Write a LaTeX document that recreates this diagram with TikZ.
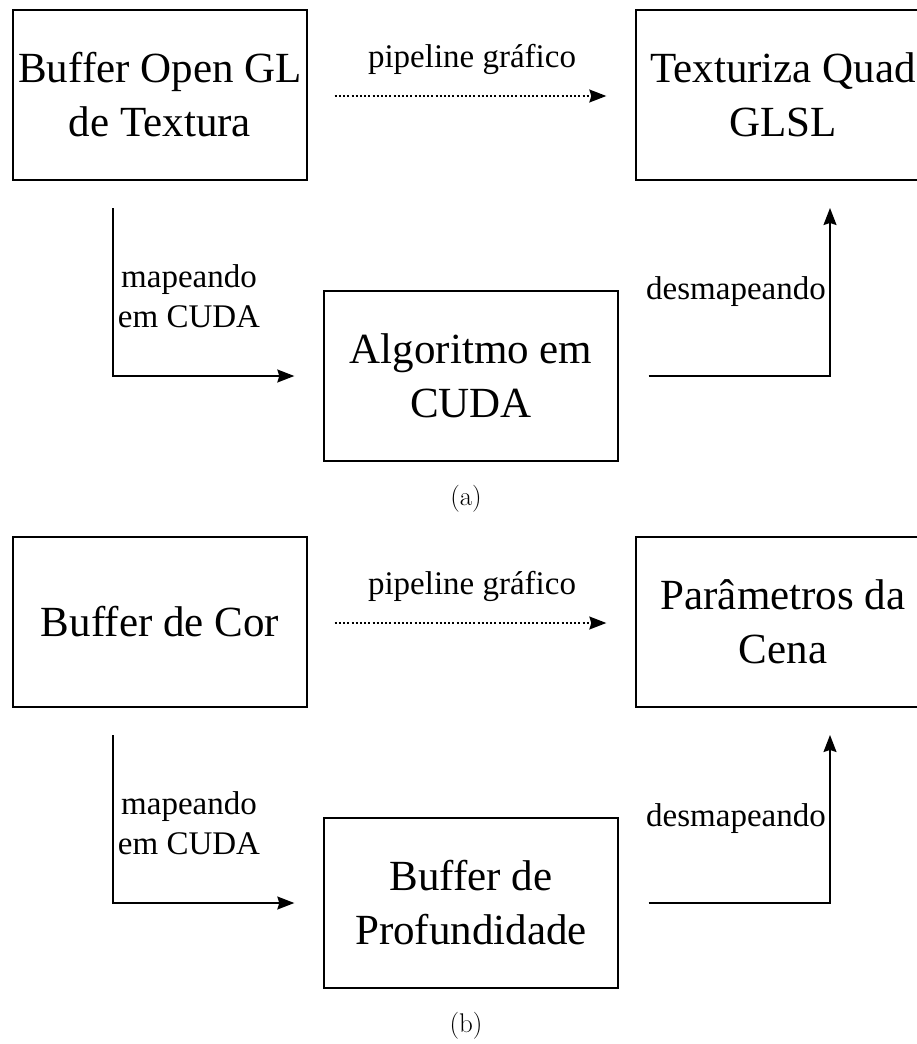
\documentclass[tikz,border=0pt]{standalone}
\usepackage{fontspec}
\newfontfamily\tnr{Liberation Serif}
\usetikzlibrary{arrows.meta}
\begin{document}
\begin{tikzpicture}[x=1pt,y=-1pt,
  line width=1.4pt,
  boxnode/.style={draw, rectangle, minimum width=294pt, minimum height=170pt, inner sep=0pt,
    align=center, font=\tnr\fontsize{43}{54}\selectfont},
  lbl/.style={inner sep=0pt, align=center, font=\tnr\fontsize{33}{40}\selectfont},
  captxt/.style={inner sep=0pt, font=\fontsize{27}{30}\selectfont},
  tip/.style={-{Stealth[length=17pt,width=13pt,inset=2pt]}},
  dotline/.style={tip, dash pattern=on 2pt off 2.2pt}]
\useasboundingbox (0,0) rectangle (917,1044);
\clip (0,0) rectangle (917,1044);
% ---------- panel (a)
\node[boxnode] (a1) at (160,95) {Buffer Open GL\\de Textura};
\node[boxnode] (a2) at (783,95) {Texturiza Quad\\GLSL};
\node[boxnode] (a3) at (471,376) {Algoritmo em\\CUDA};
\node[lbl] (ap) at (472,59) {pipeline gráfico};
\node[lbl] (am) at (189,296) {mapeando\\em CUDA};
\node[lbl] (ad) at (736,292) {desmapeando};
\node[captxt] (ac) at (466,499) {(a)};
\coordinate (als) at (113,208);
\coordinate (are) at (830,208);
\draw[dotline] ([xshift=27pt,yshift=-1pt]a1.east) -- ([xshift=-29pt,yshift=-1pt]a2.west);
\draw[tip] (als) |- ([xshift=-29pt]a3.west);
\draw[tip] ([xshift=30pt]a3.east) -| (are);
% ---------- panel (b)
\node[boxnode] (b1) at (160,622) {Buffer de Cor};
\node[boxnode] (b2) at (783,622) {Parâmetros da\\Cena};
\node[boxnode] (b3) at (471,903) {Buffer de\\Profundidade};
\node[lbl] (bp) at (472,586) {pipeline gráfico};
\node[lbl] (bm) at (189,823) {mapeando\\em CUDA};
\node[lbl] (bd) at (736,819) {desmapeando};
\node[captxt] (bc) at (466,1026) {(b)};
\coordinate (bls) at (113,735);
\coordinate (bre) at (830,735);
\draw[dotline] ([xshift=27pt,yshift=-1pt]b1.east) -- ([xshift=-29pt,yshift=-1pt]b2.west);
\draw[tip] (bls) |- ([xshift=-29pt]b3.west);
\draw[tip] ([xshift=30pt]b3.east) -| (bre);
\end{tikzpicture}
\end{document}
